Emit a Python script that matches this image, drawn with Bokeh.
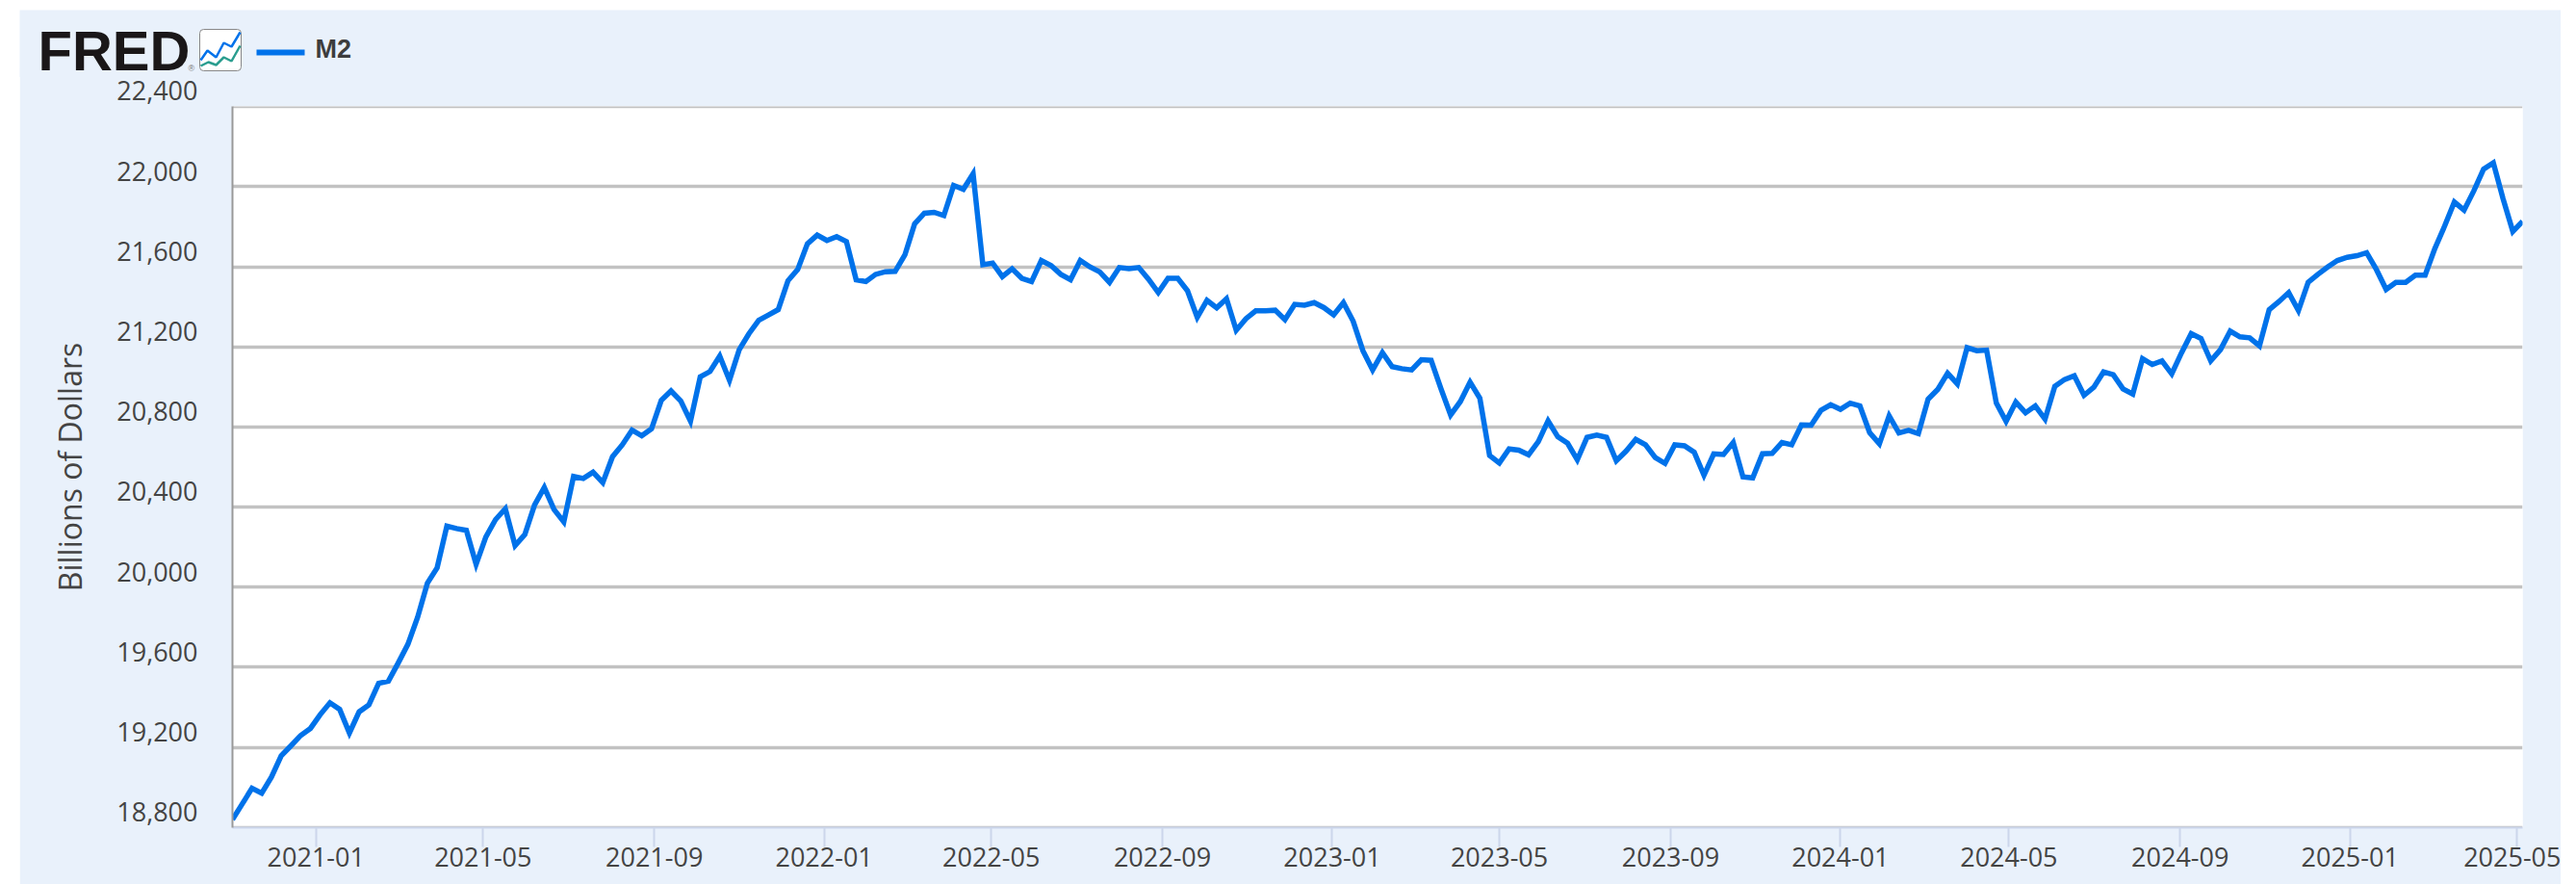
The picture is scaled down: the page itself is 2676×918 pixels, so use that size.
import pandas as pd
from bokeh.core.properties import value
from bokeh.embed import file_html
from bokeh.resources import INLINE
from bokeh.plotting import figure
from bokeh.models import DatetimeTickFormatter, FixedTicker, Range1d

series_name = "M2"
y_title = "Billions of Dollars"
start_date = "2020-11-02"
end_date = "2025-05-05"
m2_values = [
    18840, 18918, 18996, 18972, 19052, 19158, 19208, 19260, 19295, 19364,
    19423, 19390, 19272, 19378, 19413, 19520, 19531, 19621, 19715, 19850,
    20020, 20097, 20305, 20293, 20284, 20114, 20251, 20338, 20392, 20208,
    20263, 20411, 20498, 20388, 20326, 20553, 20543, 20574, 20522, 20652,
    20711, 20784, 20756, 20791, 20933, 20980, 20930, 20829, 21050, 21077,
    21154, 21033, 21186, 21266, 21333, 21359, 21386, 21530, 21586, 21715,
    21758, 21731, 21750, 21726, 21535, 21526, 21562, 21575, 21577, 21659,
    21814, 21867, 21872, 21856, 22006, 21987, 22064, 21610, 21618, 21551,
    21590, 21542, 21526, 21631, 21606, 21562, 21535, 21631, 21599, 21574,
    21522, 21596, 21590, 21596, 21538, 21471, 21542, 21542, 21480, 21347,
    21432, 21395, 21440, 21283, 21341, 21380, 21380, 21383, 21336, 21412,
    21408, 21421, 21396, 21360, 21421, 21328, 21181, 21085, 21171, 21101,
    21091, 21085, 21136, 21133, 20992, 20860, 20927, 21024, 20944, 20658,
    20620, 20690, 20684, 20661, 20727, 20831, 20751, 20719, 20636, 20748,
    20759, 20748, 20631, 20679, 20738, 20711, 20647, 20618, 20711, 20706,
    20674, 20559, 20666, 20663, 20722, 20551, 20546, 20666, 20668, 20722,
    20711, 20810, 20809, 20883, 20911, 20888, 20919, 20905, 20772, 20716,
    20855, 20770, 20783, 20767, 20939, 20988, 21068, 21015, 21196, 21181,
    21184, 20919, 20828, 20924, 20871, 20905, 20839, 21003, 21037, 21056,
    20958, 20998, 21075, 21061, 20990, 20964, 21141, 21112, 21130, 21065,
    21170, 21266, 21242, 21130, 21186, 21279, 21250, 21245, 21205, 21386,
    21426, 21471, 21381, 21522, 21562, 21599, 21631, 21647, 21655, 21670,
    21586, 21487, 21522, 21522, 21558, 21558, 21691, 21803, 21923, 21883,
    21979, 22087, 22119, 21939, 21776, 21827,
]
y_ticks = [18800, 19200, 19600, 20000, 20400, 20800, 21200, 21600, 22000, 22400]
x_tick_labels = ["2021-01", "2021-05", "2021-09", "2022-01", "2022-05", "2022-09", "2023-01",
                 "2023-05", "2023-09", "2024-01", "2024-05", "2024-09", "2025-01", "2025-05"]

BG = "#e9f1fb"
BLUE = "#0072ea"
TEXT = "#444444"
GRID = "#c2c2c2"
LEFT, TOP = 20, 10  # page position of the whole
WIDTH = 2640
HEADER_H = 70
MAIN_TOP = 70
MAIN_H = 848

dates = pd.date_range(start_date, periods=len(m2_values), freq="7D")

# Header strip: logo, icon and legend, in page pixels; it lies over the top of the main figure
h = figure(
    width=WIDTH, height=HEADER_H, output_backend="svg", toolbar_location=None,
    x_range=Range1d(LEFT, LEFT + WIDTH), y_range=Range1d(TOP + HEADER_H, TOP),
    min_border=0, background_fill_color=BG, border_fill_color=BG, outline_line_color=None,
)
h.axis.visible = False
h.grid.visible = False
h.styles = {"position": "absolute", "top": f"{TOP}px", "left": f"{LEFT}px"}
h.text([39], [52], text=["FRED"], text_font=value("Liberation Sans"), text_font_style="bold",
       text_font_size="58px", text_color="#1a1718", text_baseline="middle", text_align="left")
h.text([195], [70], text=["®"], text_font=value("Liberation Sans"), text_font_size="9px",
       text_color="#777777", text_baseline="middle", text_align="left")
h.quad(left=[207], right=[250], top=[30], bottom=[73], fill_color="white", line_color="#888888",
       line_width=1, border_radius=4)
h.line([208, 215, 224, 232, 240, 249], [62, 52, 59, 44, 48, 33], line_color=BLUE, line_width=2.5)
h.line([208, 216, 224, 232, 240, 249], [68, 64, 67, 59, 63, 47], line_color="#2a9d8f", line_width=2.5)
h.line([266, 316], [54, 54], line_color=BLUE, line_width=6)
h.text([327], [50], text=[series_name], text_font=value("Liberation Sans"), text_font_style="bold",
       text_font_size="27px", text_color="#3d3d3d", text_baseline="middle", text_align="left")

# Main chart
p = figure(
    width=WIDTH, height=MAIN_H, output_backend="svg", toolbar_location=None,
    x_axis_type="datetime",
    x_range=Range1d(pd.Timestamp(start_date), pd.Timestamp(end_date)),
    y_range=Range1d(y_ticks[0] - 0.5, y_ticks[-1] + 0.5),
    min_border_left=221, min_border_right=40, min_border_top=40, min_border_bottom=59,
    border_fill_color=BG, background_fill_color="white", outline_line_color=None,
)
p.margin = (MAIN_TOP, 0, 0, LEFT)

p.line(dates, m2_values, line_color=BLUE, line_width=5.5, line_join="miter")

p.xgrid.visible = False
p.ygrid.ticker = FixedTicker(ticks=y_ticks)
p.ygrid.grid_line_color = GRID
p.ygrid.grid_line_width = 3.5

xa = p.xaxis[0]
xa.ticker = FixedTicker(ticks=[pd.Timestamp(s + "-01").timestamp() * 1000 for s in x_tick_labels])
xa.formatter = DatetimeTickFormatter(days="%Y-%m", months="%Y-%m", years="%Y-%m", hours="%Y-%m")
xa.axis_line_color = "#ccd6eb"
xa.axis_line_width = 2
xa.major_tick_line_color = "#ccd6eb"
xa.major_tick_line_width = 2
xa.major_tick_out = 20
xa.major_tick_in = 0
xa.minor_tick_line_color = None
xa.major_label_standoff = 0
xa.major_label_text_font = "Open Sans"
xa.major_label_text_font_size = "27px"
xa.major_label_text_color = TEXT

ya = p.yaxis[0]
ya.ticker = FixedTicker(ticks=y_ticks)
ya.axis_line_color = "#999999"
ya.axis_line_width = 2
ya.major_tick_line_color = None
ya.minor_tick_line_color = None
ya.major_label_overrides = {v: f"{v:,}\n" for v in y_ticks}
ya.major_label_standoff = 30
ya.major_label_text_font = "Open Sans"
ya.major_label_text_font_size = "27px"
ya.major_label_text_color = TEXT
ya.major_label_text_line_height = 0.9
ya.axis_label = y_title
ya.axis_label_text_font = "Open Sans"
ya.axis_label_text_font_size = "32px"
ya.axis_label_text_font_style = "normal"
ya.axis_label_text_color = TEXT
ya.axis_label_standoff = 24

open("out.html", "w").write(file_html([p, h], INLINE))
